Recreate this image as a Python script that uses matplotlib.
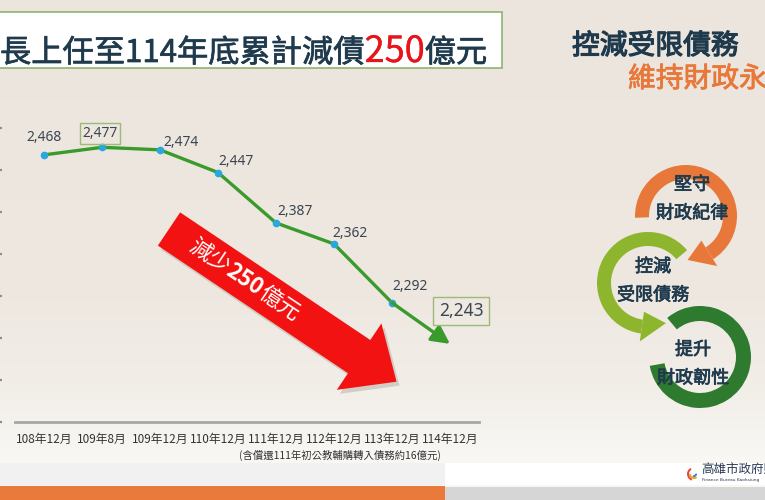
import numpy as np
import matplotlib.pyplot as plt
import matplotlib.patheffects as pe
from matplotlib.patches import Wedge, Polygon, Rectangle

plt.rcParams['font.family'] = ['Noto Sans CJK TC', 'DejaVu Sans']

# =====================================
# Data
# =====================================

periods = ["108年12月", "109年8月", "109年12月", "110年12月",
           "111年12月", "112年12月", "113年12月", "114年12月"]
debt = [2468, 2477, 2474, 2447, 2387, 2362, 2292, 2243]
y_ticks = [2150, 2200, 2250, 2300, 2350, 2400, 2450, 2500]

title_parts = ["長上任至114年底累計減債", "250", "億元"]
note_text = "(含償還111年初公教輔購轉入債務約16億元)"
side_title = ["控減受限債務", "維持財政永續"]
cycle_texts = ["堅守\n財政紀律", "控減\n受限債務", "提升\n財政韌性"]
arrow_parts = ["減少", "250", "億元"]

# label placement (pixels from point)
label_dx = [0, -2, 3, 0, 1, -2, 0, 11]
label_dy = [17, 14, 7, 11, 11, 10, 16, 33]
label_ha = ["center", "center", "left", "left", "left", "left", "left", "center"]
boxed = [False, True, False, False, False, False, False, True]

# colours
navy = "#1F3A4D"
green_line = "#3A9B2C"
dot_blue = "#2AA7DF"
red = "#F21212"
orange = "#E8783A"
light_green = "#8DB52D"
dark_green = "#2E7A2E"

W, H = 765, 500


def medium(color, w=0.7):
    # thicken regular glyphs a little, like a medium weight
    return [pe.withStroke(linewidth=w, foreground=color)]


fig = plt.figure(figsize=(W / 100, H / 100), dpi=100)

# =====================================
# Background
# =====================================

bg = fig.add_axes([0, 0, 1, 1], zorder=0)
rows = np.arange(H)
stop_y = [0, 300, 390, 455, 500]
stop_r = [236, 238, 242, 248, 248]
stop_g = [229, 232, 238, 247, 247]
stop_b = [221, 225, 232, 244, 244]
grad = np.stack([np.interp(rows, stop_y, c) for c in (stop_r, stop_g, stop_b)], axis=1) / 255
img = np.repeat(grad[:, None, :], W, axis=1)
bg.imshow(img, extent=(0, W, 0, H), origin="upper", aspect="auto")
bg.set_xlim(0, W)
bg.set_ylim(0, H)
bg.axis("off")

bg.add_patch(Rectangle((0, 15), 445, 22, fc="#F1F1F1", ec="none"))
bg.add_patch(Rectangle((445, 15), 320, 22, fc="white", ec="none"))
bg.add_patch(Rectangle((0, 0), 445, 14, fc="#E97A3B", ec="none"))
bg.add_patch(Rectangle((445, 0), 320, 13, fc="#D6D6D6", ec="none"))

# =====================================
# Line chart
# =====================================

ax = fig.add_axes([15 / W, (H - 422) / H, 464 / W, 294 / H], zorder=2)
ax.patch.set_alpha(0)

x = np.arange(len(periods))

ax.plot(x[:-1], debt[:-1], color=green_line, lw=2.4, marker="o", ms=4.5,
        mfc=dot_blue, mec=dot_blue, zorder=3)
ax.annotate("", xy=(x[-1], debt[-1]), xytext=(x[-2], debt[-2]),
            arrowprops=dict(arrowstyle="-|>,head_length=0.55,head_width=0.28",
                            color=green_line, lw=2.4, shrinkA=0, shrinkB=0,
                            mutation_scale=20), zorder=3)

for i, v in enumerate(debt):
    box = None
    size = 10
    if boxed[i]:
        size = 12.5 if i == len(debt) - 1 else 10
        box = dict(boxstyle="square,pad=0.3" if i == len(debt) - 1 else "square,pad=0.2",
                   fc="none", ec="#9BBB77", lw=1)
    ax.annotate(f"{v:,}", xy=(x[i], v), xytext=(label_dx[i], label_dy[i]),
                textcoords="offset pixels", ha=label_ha[i], va="center",
                fontsize=size, color="#3B4652",
                family=["Noto Sans", "DejaVu Sans"], bbox=box)

ax.set_xlim(-0.5, len(periods) - 0.5)
ax.set_ylim(y_ticks[0], y_ticks[-1])
ax.set_yticks(y_ticks)
ax.set_yticklabels([])
ax.set_xticks(x)
ax.set_xticklabels(periods)
ax.tick_params(axis="y", length=0)
ax.tick_params(axis="x", length=0, pad=8, labelsize=8.5, labelcolor="#333333")

for side in ["top", "right", "left"]:
    ax.spines[side].set_visible(False)
ax.spines["bottom"].set_color("#A6A6A6")
ax.spines["bottom"].set_linewidth(2)

fig.text(340 / W, 1 - 455 / H, note_text, ha="center", va="center",
         fontsize=7.5, color="#333333")

# =====================================
# Overlay decorations (pixel coords, y up)
# =====================================

ov = fig.add_axes([0, 0, 1, 1], zorder=3)
ov.patch.set_alpha(0)
ov.set_xlim(0, W)
ov.set_ylim(0, H)
ov.axis("off")

# cut-off y tick remnants at the left edge
for v in y_ticks:
    yp = ax.transData.transform((0, v))[1]
    ov.plot([0, 2.5], [yp, yp], color="#8C8C8C", lw=1.6, solid_capstyle="butt")

# title box
ov.add_patch(Rectangle((-5, H - 68), 507, 56, fc="white", ec="#8FB46E", lw=1.2))

renderer = fig.canvas.get_renderer()
cursor = 0
for part, col, size, w in zip(title_parts, [navy, "#E8141B", navy],
                              [22.5, 26, 22.5], [0.5, 0.2, 0.5]):
    t = ov.text(cursor, H - 62, part, fontsize=size, color=col,
                ha="left", va="baseline", path_effects=medium(col, w))
    cursor = t.get_window_extent(renderer).x1

# side heading
ov.text(572, H - 46, side_title[0], fontsize=20, color=navy,
        ha="left", va="center", path_effects=medium(navy, 0.9))
ov.text(628, H - 79, side_title[1], fontsize=20, color=orange,
        ha="left", va="center", path_effects=medium(orange, 0.6))

# red arrow
T = np.array([169.0, H - 229.0])
u = np.array([228.0, -153.0])
u = u / np.linalg.norm(u)
n = np.array([-u[1], u[0]])
L, hl, hw, HW = 274, 45, 20, 40
base = T + u * (L - hl)
arrow_pts = [T + n * hw, base + n * hw, base + n * HW, T + u * L,
             base - n * HW, base - n * hw, T - n * hw]
shadow = [p + np.array([3, -4]) for p in arrow_pts]
ov.add_patch(Polygon(shadow, closed=True, fc="#7A6E66", ec="none", alpha=0.25))
ov.add_patch(Polygon(arrow_pts, closed=True, fc=red, ec="none"))

angle = np.degrees(np.arctan2(u[1], u[0]))
for part, s, weight in zip(arrow_parts, [49, 91, 133], ["normal", "bold", "normal"]):
    p = T + u * s
    ov.text(p[0], p[1], part, fontsize=16, color="white", fontweight=weight,
            rotation=angle, rotation_mode="anchor", ha="center", va="center")


def ring_head(c, r_mid, th_base, th_tip, half, color):
    a, b = np.radians(th_base), np.radians(th_tip)
    pts = [(c[0] + (r_mid + half) * np.cos(a), c[1] + (r_mid + half) * np.sin(a)),
           (c[0] + (r_mid - half) * np.cos(a), c[1] + (r_mid - half) * np.sin(a)),
           (c[0] + r_mid * np.cos(b), c[1] + r_mid * np.sin(b))]
    ov.add_patch(Polygon(pts, closed=True, fc=color, ec="none"))


# cycle rings
c_orange = (686, H - 216)
c_light = (648, H - 283)
c_dark = (700, H - 357)

ov.add_patch(Wedge(c_light, 51, 40, 262, width=14, fc=light_green, ec="none"))
ring_head(c_light, 44, 262, 294, 15, light_green)

ov.add_patch(Wedge(c_orange, 51, -58, 182, width=14, fc=orange, ec="none"))
ring_head(c_orange, 44, -58, -88, 15, orange)

ov.add_patch(Wedge(c_dark, 51, -170, 130, width=15, fc=dark_green, ec="none"))

for txt, (tx, ty) in zip(cycle_texts, [(692, 199), (653, 281), (693, 364)]):
    ov.text(tx, H - ty, txt, fontsize=13, color=navy, ha="center", va="center",
            linespacing=1.75, path_effects=medium(navy, 0.5))

# logo
for k, col in enumerate(["#E8423A", "#F4A21B", "#2C8BD0"]):
    ov.add_patch(Wedge((694, H - 474), 7 - k * 2, 120 + k * 60, 250 + k * 60,
                       width=2, fc=col, ec="none"))
ov.text(701, H - 469, "高雄市政府財政局", fontsize=9, color="#2B3A55",
        ha="left", va="center")
ov.text(702, H - 480, "Finance Bureau Kaohsiung", fontsize=3.2,
        color="#2B3A55", ha="left", va="center", family=["DejaVu Sans"])

fig.savefig("out.png", dpi=100)
